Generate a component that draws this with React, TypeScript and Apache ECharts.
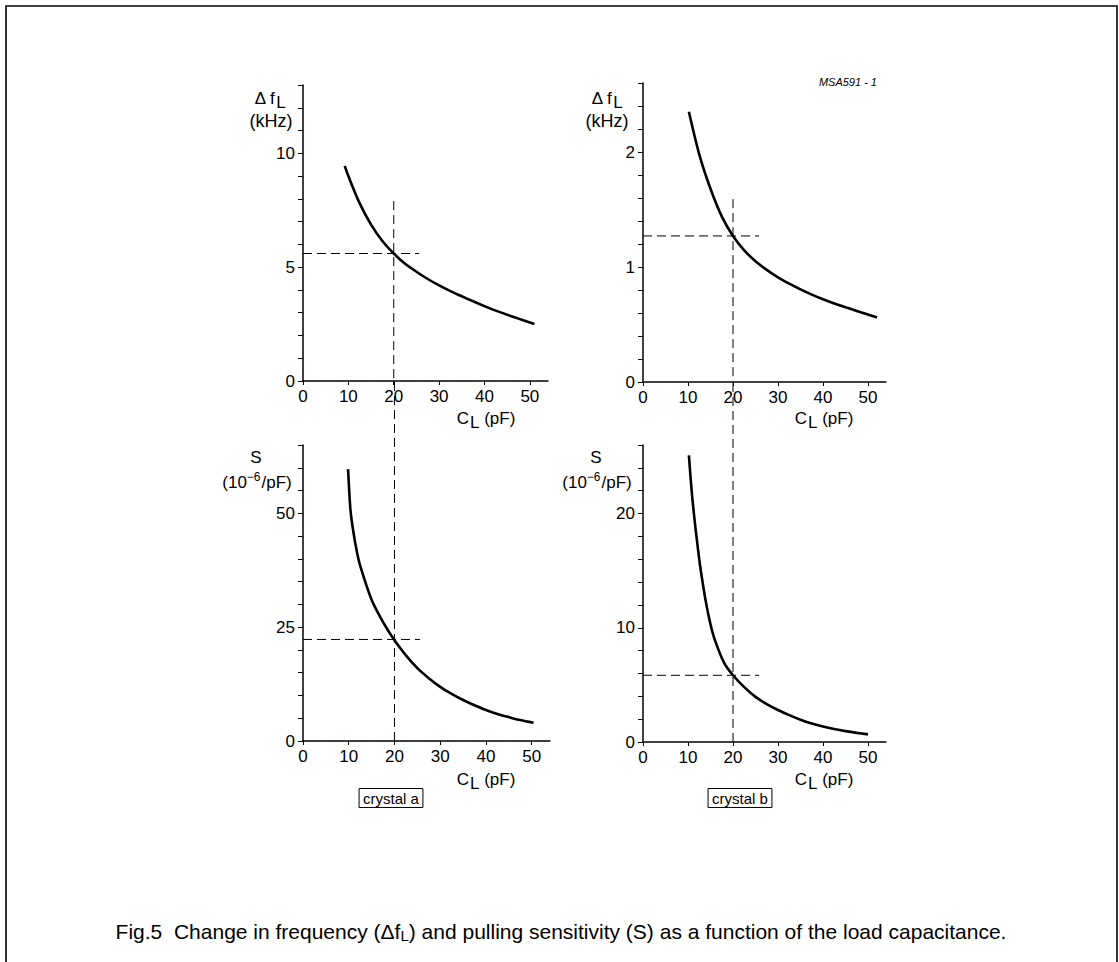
import React, { useEffect, useRef } from "react";
import * as echarts from "echarts";

// ---------- data ----------
const xTickValues = [0, 10, 20, 30, 40, 50];

// crystal a, Δf_L (kHz)
const clA1 = [9.2, 10, 12.5, 15, 17.5, 20, 22.5, 25, 27.5, 30, 32.5, 35, 37.5, 40, 42.5, 45, 47.5, 51];
const dfA = [9.45, 9.0, 7.8, 6.87, 6.15, 5.6, 5.15, 4.8, 4.48, 4.2, 3.95, 3.72, 3.5, 3.29, 3.09, 2.91, 2.74, 2.5];
const dfATicks = [0, 1, 2, 3, 4, 5, 6, 7, 8, 9, 10, 11, 12, 13];
const dfALabels = [0, 5, 10];

// crystal b, Δf_L (kHz)
const clB1 = [10.2, 12.5, 15, 17.5, 20, 22.5, 25, 27.5, 30, 32.5, 35, 37.5, 40, 42.5, 45, 47.5, 52];
const dfB = [2.35, 1.98, 1.68, 1.44, 1.27, 1.145, 1.05, 0.975, 0.91, 0.855, 0.805, 0.76, 0.72, 0.683, 0.65, 0.618, 0.56];
const dfBTicks = [0, 0.2, 0.4, 0.6, 0.8, 1, 1.2, 1.4, 1.6, 1.8, 2, 2.2, 2.4, 2.6];
const dfBLabels = [0, 1, 2];

// crystal a, S (10^-6/pF)
const clA2 = [9.85, 10.1, 10.4, 11, 11.7, 12.5, 15, 17.5, 20, 22.5, 25, 27.5, 30, 32.5, 35, 37.5, 40, 42.5, 45, 47.5, 50.4];
const sA = [59.7, 55, 50.5, 46, 42, 38.5, 31.0, 26.1, 22.1, 18.8, 16.0, 13.8, 11.9, 10.35, 9.0, 7.85, 6.8, 5.95, 5.25, 4.6, 4.0];
const sATicks = [0, 5, 10, 15, 20, 25, 30, 35, 40, 45, 50, 55, 60, 65];
const sALabels = [0, 25, 50];

// crystal b, S (10^-6/pF)
const clB2 = [10.2, 10.6, 11, 11.5, 12, 12.5, 13, 14, 15, 16, 18, 20, 22.5, 25, 27.5, 30, 32.5, 35, 37.5, 40, 42.5, 45, 47.5, 50];
const sB = [25.1, 23, 21.2, 19.3, 17.6, 16.0, 14.6, 12.2, 10.3, 8.9, 6.95, 5.84, 4.8, 3.95, 3.32, 2.8, 2.35, 1.95, 1.62, 1.35, 1.13, 0.95, 0.8, 0.67];
const sBTicks = [0, 2, 4, 6, 8, 10, 12, 14, 16, 18, 20, 22, 24, 26];
const sBLabels = [0, 10, 20];

// reference (dashed) lines
const refX = 20;
const refDfA = 5.6;
const refDfB = 1.27;
const refSA = 22.3;
const refSB = 5.84;
const hEndA = 25.6;
const hEndB = 25.8;
const vTopA = 7.9;
const vTopB = 1.59;

const FONT = "'Liberation Sans', Arial, Helvetica, sans-serif";

function zip(xs: number[], ys: number[]) {
  return xs.map((x, i) => [x, ys[i]]);
}

function xAxisCfg(gridIndex: number) {
  return {
    type: "value",
    gridIndex,
    min: 0,
    max: 54,
    interval: 10,
    axisLine: { show: true, onZero: false, lineStyle: { color: "#000", width: 1.5 } },
    axisTick: { show: true, length: 4, lineStyle: { color: "#000", width: 1 }, customValues: xTickValues },
    axisLabel: {
      color: "#000",
      fontSize: 17,
      fontFamily: FONT,
      margin: 7,
      customValues: xTickValues,
      formatter: (v: number) => (xTickValues.indexOf(v) >= 0 ? String(v) : ""),
    },
    splitLine: { show: false },
  };
}

function yAxisCfg(gridIndex: number, max: number, interval: number, ticks: number[], labels: number[]) {
  return {
    type: "value",
    gridIndex,
    min: 0,
    max,
    interval,
    axisLine: { show: true, onZero: false, lineStyle: { color: "#000", width: 1.5 } },
    axisTick: { show: true, length: 5, lineStyle: { color: "#000", width: 1 }, customValues: ticks },
    axisLabel: {
      color: "#000",
      fontSize: 17,
      fontFamily: FONT,
      margin: 8,
      customValues: labels,
      formatter: (v: number) => (labels.some((l) => Math.abs(l - v) < 1e-6) ? String(Math.round(v)) : ""),
    },
    splitLine: { show: false },
  };
}

const curveStyle = { color: "#000", width: 2.6 };
const dashStyle = { color: "#000", width: 1, type: [9, 5] as any };

function curve(idx: number, data: number[][]) {
  return {
    type: "line",
    xAxisIndex: idx,
    yAxisIndex: idx,
    data,
    smooth: 0.3,
    symbol: "none",
    showSymbol: false,
    lineStyle: curveStyle,
    clip: false,
    silent: true,
  };
}

function dashed(id: string, idx: number, data: number[][]) {
  return {
    id,
    type: "line",
    xAxisIndex: idx,
    yAxisIndex: idx,
    data,
    symbol: "none",
    showSymbol: false,
    lineStyle: dashStyle,
    clip: false,
    silent: true,
  };
}

function txt(text: string, x: number, y: number, fontSize: number, extra: any = {}) {
  return {
    type: "text",
    x,
    y,
    silent: true,
    style: {
      text,
      fontSize,
      fontFamily: FONT,
      fill: "#000",
      textAlign: "center",
      textVerticalAlign: "middle",
      align: "center",
      verticalAlign: "middle",
      ...extra,
    },
  };
}

const richSub = {
  s: { fontSize: 17, fontFamily: FONT, fill: "#000", padding: [8, 0, 0, 1] },
};
const richSup = {
  p: { fontSize: 12, fontFamily: FONT, fill: "#000", padding: [0, 1, 10, 0] },
};

export default function App() {
  const ref = useRef<HTMLDivElement>(null);

  useEffect(() => {
    document.body.style.margin = "0";
    if (!ref.current) return;
    const chart = echarts.init(ref.current, undefined, { renderer: "svg" });

    const option: any = {
      animation: false,
      backgroundColor: "#fff",
      textStyle: { fontFamily: FONT },
      grid: [
        { left: 303, top: 85, width: 245, height: 296, outerBoundsMode: "none" },
        { left: 643, top: 83, width: 243, height: 299, outerBoundsMode: "none" },
        { left: 303, top: 445, width: 247, height: 296, outerBoundsMode: "none" },
        { left: 643, top: 445, width: 243, height: 297, outerBoundsMode: "none" },
      ],
      xAxis: [xAxisCfg(0), xAxisCfg(1), xAxisCfg(2), xAxisCfg(3)],
      yAxis: [
        yAxisCfg(0, 13, 1, dfATicks, dfALabels),
        yAxisCfg(1, 2.6, 0.2, dfBTicks, dfBLabels),
        yAxisCfg(2, 65, 5, sATicks, sALabels),
        yAxisCfg(3, 26, 2, sBTicks, sBLabels),
      ],
      series: [
        curve(0, zip(clA1, dfA)),
        curve(1, zip(clB1, dfB)),
        curve(2, zip(clA2, sA)),
        curve(3, zip(clB2, sB)),
        dashed("hA1", 0, [[0, refDfA], [hEndA, refDfA]]),
        dashed("vA", 0, [[refX, vTopA], [refX, 0]]),
        dashed("hB1", 1, [[0, refDfB], [hEndB, refDfB]]),
        dashed("vB", 1, [[refX, vTopB], [refX, 0]]),
        dashed("hA2", 2, [[0, refSA], [hEndA, refSA]]),
        dashed("vA2", 2, [[refX, 0], [refX, 65]]),
        dashed("hB2", 3, [[0, refSB], [hEndB, refSB]]),
        dashed("vB2", 3, [[refX, 0], [refX, 26]]),
      ],
      graphic: [
        {
          type: "rect",
          silent: true,
          shape: { x: 6, y: 6, width: 1111, height: 990 },
          style: { fill: "none", stroke: "#000", lineWidth: 1.6 },
        },
        // y-axis names
        txt("Δ f{s|L}", 270, 98, 17, { rich: richSub }),
        txt("(kHz)", 271, 121, 18),
        txt("Δ f{s|L}", 607, 98, 17, { rich: richSub }),
        txt("(kHz)", 607, 121, 18),
        txt("S", 256, 457, 17),
        txt("(10{p|−6}/pF)", 257, 482, 17, { rich: richSup }),
        txt("S", 596, 457, 17),
        txt("(10{p|−6}/pF)", 597, 482, 17, { rich: richSup }),
        // x-axis names
        txt("C{s|L} (pF)", 486, 418, 17, { rich: richSub }),
        txt("C{s|L} (pF)", 824, 418, 17, { rich: richSub }),
        txt("C{s|L} (pF)", 486, 779, 17, { rich: richSub }),
        txt("C{s|L} (pF)", 824, 779, 17, { rich: richSub }),
        // labels
        txt("MSA591 - 1", 877, 82, 11, { fontStyle: "italic", textAlign: "right", align: "right" }),
        txt("crystal a", 391, 798, 15, { borderColor: "#000", borderWidth: 1, padding: [2, 4, 2, 4] }),
        txt("crystal b", 740, 798, 15, { borderColor: "#000", borderWidth: 1, padding: [2, 4, 2, 4] }),
        txt(
          "Fig.5  Change in frequency (Δf{s|L}) and pulling sensitivity (S) as a function of the load capacitance.",
          561,
          931,
          21,
          { rich: { s: { fontSize: 15, fontFamily: FONT, fill: "#000", padding: [8, 0, 0, 0] } } }
        ),
      ],
    };

    chart.setOption(option);

    // extend the lower panels' vertical reference lines up to the upper panels' x-axes
    const extendUp = (topIdx: number, botIdx: number) => {
      const pTop = chart.convertToPixel({ xAxisIndex: topIdx, yAxisIndex: topIdx }, [refX, 0]) as number[];
      const q0 = chart.convertToPixel({ xAxisIndex: botIdx, yAxisIndex: botIdx }, [refX, 0]) as number[];
      const q1 = chart.convertToPixel({ xAxisIndex: botIdx, yAxisIndex: botIdx }, [refX, 1]) as number[];
      const unit = q0[1] - q1[1];
      return (q0[1] - pTop[1]) / unit;
    };
    const yA = extendUp(0, 2);
    const yB = extendUp(1, 3);
    chart.setOption({
      series: [
        { id: "vA2", data: [[refX, 0], [refX, yA]] },
        { id: "vB2", data: [[refX, 0], [refX, yB]] },
      ],
    });

    return () => chart.dispose();
  }, []);

  return <div ref={ref} style={{ width: 1119, height: 962 }} />;
}
